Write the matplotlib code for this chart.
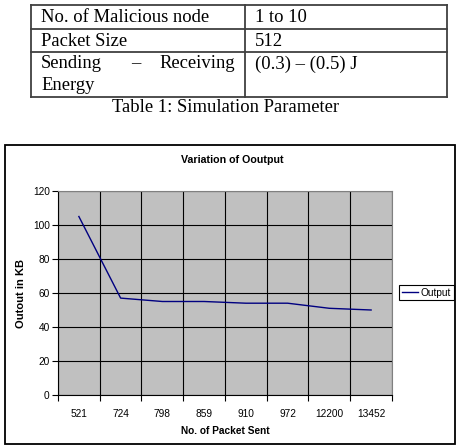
import matplotlib
matplotlib.use("Agg")
import matplotlib.pyplot as plt
from matplotlib.lines import Line2D

# table contents
table_rows = [("No. of Malicious node", "1 to 10"),
              ("Packet Size", "512"),
              ("Sending – Receiving Energy", "(0.3) – (0.5) J")]
caption = "Table 1: Simulation Parameter"

# chart data
packets = ["521", "724", "798", "859", "910", "972", "12200", "13452"]
output_kb = [105, 57, 55, 55, 54, 54, 51, 50]

W, H = 460, 448
fig = plt.figure(figsize=(W / 100, H / 100), dpi=100)
fig.patch.set_facecolor("white")

# overlay in pixel coordinates for table and chart frame
ov = fig.add_axes([0, 0, 1, 1])
ov.set_xlim(0, W)
ov.set_ylim(H, 0)
ov.axis("off")

serif = "Liberation Serif"
tl, tr, tc = 31, 447, 245
ys = [5, 29, 52, 97]
lc = "#404040"
for y in ys:
    ov.add_line(Line2D([tl, tr], [y, y], color=lc, lw=1.3))
for x in (tl, tc, tr):
    ov.add_line(Line2D([x, x], [ys[0], ys[-1]], color=lc, lw=1.3))

fs = 13.4
ov.text(41, 17, table_rows[0][0], fontsize=fs, family=serif, va="center")
ov.text(255, 17, table_rows[0][1], fontsize=fs, family=serif, va="center")
ov.text(41, 41, table_rows[1][0], fontsize=fs, family=serif, va="center")
ov.text(255, 41, table_rows[1][1], fontsize=fs, family=serif, va="center")
w1, w2, w3 = table_rows[2][0].split(" ")[:3]
ov.text(41, 64, w1, fontsize=fs, family=serif, va="center")
ov.text(136, 64, w2, fontsize=fs, family=serif, va="center", ha="center")
ov.text(235, 64, w3, fontsize=fs, family=serif, va="center", ha="right")
ov.text(41, 86, table_rows[2][0].split(" ")[-1], fontsize=fs, family=serif, va="center")
ov.text(255, 64, table_rows[2][1], fontsize=fs, family=serif, va="center")
ov.text(226, 108, caption, fontsize=fs, family=serif, va="center", ha="center")

# chart frame
ov.add_patch(plt.Rectangle((5, 145), 450, 299, fill=False, ec="black", lw=1.3))
ov.text(232, 160, "Variation of Ooutput", fontsize=7.7, fontweight="bold",
        family="Liberation Sans", ha="center", va="center")

# chart axes
pl, pr, pt, pb = 58, 392, 191, 395
ax = fig.add_axes([pl / W, 1 - pb / H, (pr - pl) / W, (pb - pt) / H])
ax.set_facecolor("#C0C0C0")
x = list(range(len(packets)))
ax.plot(x, output_kb, color="#000080", lw=1, label="Output")
ax.set_xlim(-0.5, len(packets) - 0.5)
ax.set_ylim(0, 120)
ax.set_yticks(range(0, 121, 20))
ax.set_xticks(x)
ax.set_xticklabels(packets)
ax.set_xticks([i + 0.5 for i in range(-1, len(packets))], minor=True)
ax.tick_params(axis="x", which="major", length=0, pad=10, labelsize=7.3)
ax.tick_params(axis="x", which="minor", length=4, direction="out", width=0.8)
ax.tick_params(axis="y", length=4, direction="out", width=0.8, pad=2, labelsize=7.3)
ax.grid(True, axis="y", color="black", lw=0.8)
ax.grid(True, axis="x", which="minor", color="black", lw=0.8)
ax.set_axisbelow(True)
for s in ax.spines.values():
    s.set_color("#808080")
ax.spines["bottom"].set_color("black")
ax.spines["left"].set_color("black")
for lab in ax.get_xticklabels() + ax.get_yticklabels():
    lab.set_family("Liberation Sans")
ax.set_xlabel("No. of Packet Sent", fontsize=7.3, fontweight="bold",
              family="Liberation Sans", labelpad=5)
ax.set_ylabel("Outout in KB", fontsize=8, fontweight="bold",
              family="Liberation Sans", labelpad=5)

leg = ax.legend(loc="center left", bbox_to_anchor=(399 / W, 1 - 292.5 / H),
                bbox_transform=fig.transFigure, fancybox=False, framealpha=1,
                edgecolor="black", prop={"family": "Liberation Sans", "size": 7.3},
                handlelength=1.6, handletextpad=0.3, borderpad=0.25,
                borderaxespad=0)
leg.get_frame().set_linewidth(0.8)

fig.savefig("out.png", dpi=100)
